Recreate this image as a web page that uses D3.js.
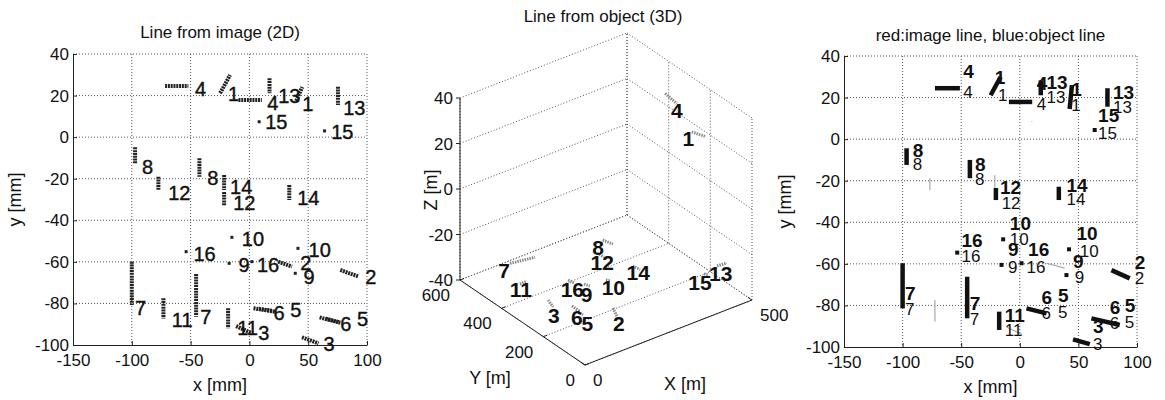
<!DOCTYPE html>
<html lang="en">
<head>
<meta charset="UTF-8">
<title>Line from image / object</title>
<script src="https://d3js.org/d3.v7.min.js"></script>
<style>
    body { margin: 0; background: #fff; }
    text { font-family: "Liberation Sans", Arial, sans-serif; fill: #111; }
    .grid { stroke: #555; stroke-width: 1; stroke-dasharray: 1,2; fill: none; }
    .axisline { stroke: #222; stroke-width: 1; }
    .seg2d { stroke: #222; stroke-width: 4; stroke-dasharray: 2,0.8; }
    .dot2d { fill: #222; }
    .lab2d { stroke: #111; stroke-width: 0.4; }
    .seg3d { stroke: #8a8a8a; stroke-width: 3; stroke-dasharray: 1.5,1; }
    .segobj { stroke: #111; stroke-width: 4.5; }
    .segimg { stroke: #999; stroke-width: 1; }
</style>
</head>
<body>
<script>
    const width = 1165;
    const height = 400;

    // ticks
    const xTicks2d = [-150, -100, -50, 0, 50, 100];
    const yTicks2d = [-100, -80, -60, -40, -20, 0, 20, 40];
    const xTicks3d = [0, 500];
    const yTicks3d = [0, 200, 400, 600];
    const zTicks3d = [-40, -20, 0, 20, 40];

    // image lines [id, x1, y1, x2, y2] in mm (points have equal ends)
    const imageLines = [
        [4, -71.7, 24.6, -51.9, 24.6], [1, -24.9, 21.1, -16.4, 29.9],
        [4, -9.3, 17.9, 10.6, 17.9], [13, 17.1, 28.3, 17.1, 21.1],
        [1, 39.8, 17.4, 44.9, 24.1], [13, 75.3, 24.3, 75.3, 15.5],
        [15, 8.3, 7.4, 8.3, 7.4], [15, 63.9, 3.0, 63.9, 3.0],
        [8, -97.2, -4.9, -97.2, -12.9], [8, -42.5, -10.2, -42.5, -19],
        [12, -77.4, -19, -77.4, -25.4], [14, -21.5, -18.2, -21.5, -25.4],
        [12, -21.5, -26.4, -21.5, -33.1], [14, 33.9, -23, 33.9, -30.2],
        [10, -14.9, -48.2, -14.9, -48.2], [10, 41.3, -53.5, 41.3, -53.5],
        [16, -53.8, -55.1, -53.8, -55.1], [9, -17.2, -60.7, -17.2, -60.7],
        [16, 2.1, -59.9, 2.1, -59.9], [2, 24.5, -59.9, 36.2, -62.3],
        [9, 39, -65.5, 39, -65.5], [2, 77.3, -63.9, 92.9, -67.1],
        [7, -100, -59.9, -100, -80.8], [11, -73.1, -77.5, -73.1, -87.2],
        [7, -45.3, -65.8, -45.3, -86.4], [6, 3.5, -82.3, 21.9, -84],
        [5, 8, -82.6, 20, -83.6], [11, -18.1, -82.3, -18.1, -92],
        [3, -11.3, -90.9, 1.5, -94.2], [6, 59.7, -86.7, 77.3, -89.3],
        [5, 65, -87.3, 76, -89], [3, 44.7, -96.3, 58.8, -99.2]
    ];
    const imageLabels = [
        ["4", -46.2, 23.2], ["1", -18.1, 20.8], ["4", 15.1, 16.6], ["13", 24.5, 19.8],
        ["1", 44.9, 15.9], ["13", 79.8, 14.3], ["15", 13.4, 7.4], ["15", 69.6, 2.5],
        ["8", -91.3, -14.2], ["8", -35.9, -19.4], ["12", -69.1, -26.7], ["14", -16.4, -24.0],
        ["12", -13.8, -31.7], ["14", 40.7, -29.3], ["10", -6.4, -49], ["10", 50.3, -54.3],
        ["16", -47.6, -56.2], ["9", -9.3, -61.5], ["16", 6.4, -61.5], ["2", 43.2, -60.6],
        ["9", 46, -67.1], ["2", 98.6, -67.4], ["7", -97.2, -82.3], ["11", -66, -88],
        ["7", -41.9, -86.4], ["6", 20.5, -84.7], ["5", 34.7, -83.2], ["11", -10.4, -91.8],
        ["3", 7.5, -94.2], ["6", 77.3, -89.6], ["5", 91.5, -87.2], ["3", 63.1, -99.2]
    ];

    // object lines [id, X1, Y1, Z1, X2, Y2, Z2] in m
    const objectLines = [
        [4, 480, 385, 28, 480, 329, 27], [1, 480, 257, 19, 480, 194, 21],
        [8, 320, 428, -30, 328, 392, -30], [12, 273, 380, -30, 275, 349, -30],
        [14, 304, 259, -30, 309, 231, -30], [7, 78, 485, -30, 143, 469, -30],
        [11, 39, 375, -30, 61, 376, -30], [16, 142, 309, -30, 145, 285, -30],
        [9, 161, 263, -30, 167, 244, -30], [10, 214, 243, -30, 221, 230, -30],
        [15, 418, 99, -30, 423, 87, -30], [13, 465, 112, -30, 492, 108, -30],
        [3, 48, 254, -30, 38, 214, -30], [6, 77, 186, -30, 76, 146, -30],
        [5, 71, 148, -30, 73, 126, -30], [2, 149, 105, -30, 134, 62, -30]
    ];
    const objectLabels = [
        ["4", 480, 329, 24], ["1", 480, 274, 15], ["8", 291, 404, -30], ["12", 256, 328, -30],
        ["14", 297, 221, -30], ["7", 46, 462, -30], ["11", 27, 351, -30], ["16", 125, 261, -30],
        ["9", 138, 214, -30], ["10", 207, 196, -30], ["15", 386, 67, -30], ["13", 451, 72, -30],
        ["3", 15, 173, -30], ["6", 54, 126, -30], ["5", 56, 78, -30], ["2", 116, 23, -30]
    ];

    // overlay: projected object lines (thick) and unmatched image lines (thin)
    const overlayObject = [
        [4, -72.4, 24.5, -51.1, 24.5], [1, -24.9, 21.1, -16.4, 29.9],
        [4, -9.3, 17.9, 10.6, 17.9], [13, 17.9, 28.3, 17.9, 21.1],
        [1, 42.5, 14.5, 44.5, 26], [13, 74.8, 24.5, 74.8, 15.6],
        [8, -96.6, -4.4, -96.6, -12.4], [8, -42.6, -10, -42.6, -18.8],
        [12, -20.4, -23.5, -20.4, -29.3], [14, 33.3, -22.9, 33.3, -29.3],
        [2, 78.2, -63, 93.8, -67], [7, -100, -59.7, -100, -81.4],
        [7, -44.9, -66.2, -44.9, -86.2], [11, -17.6, -83, -17.6, -91.8],
        [6, 5.7, -81.4, 22.8, -83.8], [6, 61.1, -86.2, 85.3, -89.4],
        [3, 45.4, -96.3, 59.7, -98.6],
        [15, 63.9, 4.4, 63.9, 4.4], [10, -14.2, -48.2, -14.2, -48.2],
        [16, -53.4, -54.6, -53.4, -54.6], [9, -15.6, -60.5, -15.6, -60.5],
        [16, 1.5, -59.7, 1.5, -59.7], [10, 42, -53, 42, -53], [9, 39.8, -65.4, 39.8, -65.4]
    ];
    const overlayImage = [
        [12, -76.7, -18.7, -76.7, -24.5], [14, -21.3, -17.3, -21.3, -23.6],
        [2, 22.8, -59.7, 38.4, -62.1], [11, -72.4, -77.4, -72.4, -87.8],
        [3, -11, -90.5, 2, -94], [15, 10, 8.4, 10.6, 8.4]
    ];
    // [text, x, y, bold]
    const overlayLabels = [
        ["4", -48.3, 32.5, 1], ["1", -21.3, 30, 1], ["4", 14.5, 26.9, 1], ["13", 22.8, 27.6, 1],
        ["1", 44, 24, 1], ["13", 79.5, 22.8, 1], ["15", 66.8, 11.6, 1], ["8", -91.4, -5.2, 1],
        ["8", -38.3, -12.1, 1], ["12", -17, -22.9, 1], ["14", 39.8, -22.1, 1], ["10", -8.5, -40.5, 1],
        ["16", -49.7, -48.5, 1], ["9", -10, -53, 1], ["16", 7.1, -53, 1], ["10", 48.3, -45.3, 1],
        ["9", 45.4, -58.5, 1], ["2", 98, -59.3, 1], ["7", -98, -73.9, 1], ["7", -42.6, -78.7, 1],
        ["11", -12.8, -84.6, 1], ["6", 18.5, -76.1, 1], ["5", 32.7, -75, 1], ["6", 76.7, -80.6, 1],
        ["5", 89.5, -79.8, 1], ["3", 62.5, -90.2, 1],
        ["4", -48.3, 22.8, 0], ["1", -18.7, 21.2, 0], ["4", 14.5, 17.2, 0], ["13", 22.8, 20.4, 0],
        ["1", 44, 16.4, 0], ["13", 79.5, 15.3, 0], ["15", 66.8, 3.1, 0], ["8", -91.4, -12.1, 0],
        ["8", -38.3, -19.3, 0], ["12", -15.5, -30.7, 0], ["14", 39.8, -28.8, 0], ["10", -8.5, -48.2, 0],
        ["16", -49.7, -56.2, 0], ["9", -10, -61.4, 0], ["16", 5.7, -61.5, 0], ["10", 51.2, -53.7, 0],
        ["9", 46.9, -66.5, 0], ["2", 98, -66.6, 0], ["7", -98, -81.9, 0], ["7", -42.6, -86.7, 0],
        ["11", -12.8, -91.8, 0], ["6", 18.5, -83.8, 0], ["5", 32.7, -83, 0], ["6", 76.7, -88.6, 0],
        ["5", 89.5, -87.8, 0], ["3", 62.5, -98.6, 0]
    ];

    const svg = d3.select("body").append("svg")
            .attr("width", width).attr("height", height);

    const isPoint = d => d[1] === d[3] && d[2] === d[4];
    const plain = d => String(d);   // hyphen minus like the original

    function panel2d(left, right, top, bottom, title, titleY, labelX) {
        const x = d3.scaleLinear().domain([-150, 100]).range([left, right]);
        const y = d3.scaleLinear().domain([-100, 40]).range([bottom, top]);
        const g = svg.append("g");

        g.selectAll("line.gx").data(xTicks2d.slice(1)).enter().append("line")
            .attr("class", "grid")
            .attr("x1", d => x(d)).attr("x2", d => x(d))
            .attr("y1", top).attr("y2", bottom);
        g.selectAll("line.gy").data(yTicks2d.slice(1)).enter().append("line")
            .attr("class", "grid")
            .attr("x1", left).attr("x2", right)
            .attr("y1", d => y(d)).attr("y2", d => y(d));

        const ax = g.append("g").attr("transform", `translate(0,${bottom})`)
            .call(d3.axisBottom(x).tickValues(xTicks2d).tickFormat(plain)
                .tickSizeInner(-4).tickSizeOuter(0).tickPadding(9));
        const ay = g.append("g").attr("transform", `translate(${left},0)`)
            .call(d3.axisLeft(y).tickValues(yTicks2d).tickFormat(plain)
                .tickSizeInner(-4).tickSizeOuter(0).tickPadding(4));
        [ax, ay].forEach(a => {
            a.attr("font-size", 17).attr("font-family", '"Liberation Sans", Arial, sans-serif');
            a.selectAll("path, line").attr("stroke", "#222");
            a.selectAll("text").attr("fill", "#111");
        });

        g.append("text").attr("x", (left + right) / 2).attr("y", titleY)
            .attr("text-anchor", "middle").attr("font-size", 17).text(title);
        g.append("text").attr("x", (left + right) / 2).attr("y", bottom + 46)
            .attr("text-anchor", "middle").attr("font-size", 18).text("x [mm]");
        g.append("text").attr("transform", `translate(${labelX},${(top + bottom) / 2}) rotate(-90)`)
            .attr("text-anchor", "middle").attr("font-size", 18).text("y [mm]");
        return {g, x, y};
    }

    // ---- left: image lines
    const p1 = panel2d(73, 367, 54, 345, "Line from image (2D)", 38, 21);
    p1.g.selectAll("line.seg").data(imageLines.filter(d => !isPoint(d))).enter().append("line")
        .attr("class", "seg2d")
        .attr("x1", d => p1.x(d[1])).attr("y1", d => p1.y(d[2]))
        .attr("x2", d => p1.x(d[3])).attr("y2", d => p1.y(d[4]));
    p1.g.selectAll("rect.dot").data(imageLines.filter(isPoint)).enter().append("rect")
        .attr("class", "dot2d")
        .attr("x", d => p1.x(d[1]) - 1.5).attr("y", d => p1.y(d[2]) - 1.5)
        .attr("width", 3).attr("height", 3);
    p1.g.selectAll("text.lab").data(imageLabels).enter().append("text")
        .attr("class", "lab2d")
        .attr("x", d => p1.x(d[1])).attr("y", d => p1.y(d[2]))
        .attr("dy", "0.36em").attr("font-size", 20).text(d => d[0]);

    // ---- middle: 3D object lines
    const pxX = d3.scaleLinear().domain([0, 500]).range([0, 167]);
    const pyX = d3.scaleLinear().domain([0, 500]).range([0, -65]);
    const pxY = d3.scaleLinear().domain([0, 600]).range([0, -125]);
    const pyY = d3.scaleLinear().domain([0, 600]).range([0, -85]);
    const pyZ = d3.scaleLinear().domain([-40, 40]).range([0, -182]);
    const proj = (X, Y, Z) => [585 + pxX(X) + pxY(Y), 365 + pyX(X) + pyY(Y) + pyZ(Z)];

    const g3 = svg.append("g");
    const grid3 = [];
    zTicks3d.forEach(z => {
        grid3.push([proj(0, 600, z), proj(500, 600, z)]);
        grid3.push([proj(500, 0, z), proj(500, 600, z)]);
    });
    xTicks3d.forEach(X => {
        grid3.push([proj(X, 600, -40), proj(X, 600, 40)]);
        grid3.push([proj(X, 0, -40), proj(X, 600, -40)]);
    });
    yTicks3d.forEach(Y => {
        grid3.push([proj(500, Y, -40), proj(500, Y, 40)]);
        grid3.push([proj(0, Y, -40), proj(500, Y, -40)]);
    });
    g3.selectAll("line.grid").data(grid3).enter().append("line")
        .attr("class", "grid")
        .attr("x1", d => d[0][0]).attr("y1", d => d[0][1])
        .attr("x2", d => d[1][0]).attr("y2", d => d[1][1]);

    const axes3 = [
        [proj(0, 600, -40), proj(0, 600, 40)],
        [proj(0, 0, -40), proj(0, 600, -40)],
        [proj(0, 0, -40), proj(500, 0, -40)]
    ];
    g3.selectAll("line.axisline").data(axes3).enter().append("line")
        .attr("class", "axisline")
        .attr("x1", d => d[0][0]).attr("y1", d => d[0][1])
        .attr("x2", d => d[1][0]).attr("y2", d => d[1][1]);

    // ticks and tick labels
    zTicks3d.forEach(z => {
        const p = proj(0, 600, z);
        g3.append("line").attr("class", "axisline")
            .attr("x1", p[0]).attr("y1", p[1]).attr("x2", p[0] - 4).attr("y2", p[1]);
        g3.append("text").attr("x", p[0] - 7).attr("y", p[1]).attr("dy", "0.36em")
            .attr("text-anchor", "end").attr("font-size", 17).text(z);
    });
    yTicks3d.forEach(Y => {
        const p = proj(0, Y, -40), q = proj(12, Y, -40);
        g3.append("line").attr("class", "axisline")
            .attr("x1", p[0]).attr("y1", p[1]).attr("x2", q[0]).attr("y2", q[1]);
        g3.append("text").attr("x", p[0] - 10).attr("y", p[1] + 15).attr("dy", "0.36em")
            .attr("text-anchor", "end").attr("font-size", 17).text(Y);
    });
    xTicks3d.forEach(X => {
        const p = proj(X, 0, -40), q = proj(X, 20, -40);
        g3.append("line").attr("class", "axisline")
            .attr("x1", p[0]).attr("y1", p[1]).attr("x2", q[0]).attr("y2", q[1]);
        g3.append("text").attr("x", p[0] + 8).attr("y", p[1] + 15).attr("dy", "0.36em")
            .attr("font-size", 17).text(X);
    });

    g3.append("text").attr("x", 603).attr("y", 22).attr("text-anchor", "middle")
        .attr("font-size", 17).text("Line from object (3D)");
    g3.append("text").attr("x", 490).attr("y", 384).attr("text-anchor", "middle")
        .attr("font-size", 18).text("Y [m]");
    g3.append("text").attr("x", 685).attr("y", 390).attr("text-anchor", "middle")
        .attr("font-size", 18).text("X [m]");
    g3.append("text").attr("transform", "translate(437,190) rotate(-90)")
        .attr("text-anchor", "middle").attr("font-size", 18).text("Z [m]");

    g3.selectAll("line.seg3d").data(objectLines).enter().append("line")
        .attr("class", "seg3d")
        .attr("x1", d => proj(d[1], d[2], d[3])[0]).attr("y1", d => proj(d[1], d[2], d[3])[1])
        .attr("x2", d => proj(d[4], d[5], d[6])[0]).attr("y2", d => proj(d[4], d[5], d[6])[1]);
    g3.selectAll("text.lab3").data(objectLabels).enter().append("text")
        .attr("x", d => proj(d[1], d[2], d[3])[0]).attr("y", d => proj(d[1], d[2], d[3])[1])
        .attr("dy", "0.36em").attr("text-anchor", "middle")
        .attr("font-size", 21).attr("font-weight", "bold").text(d => d[0]);

    // ---- right: overlay
    const p3 = panel2d(844, 1137, 56, 347, "red:image line, blue:object line", 41, 791);
    p3.g.selectAll("line.img").data(overlayImage).enter().append("line")
        .attr("class", "segimg")
        .attr("x1", d => p3.x(d[1])).attr("y1", d => p3.y(d[2]))
        .attr("x2", d => p3.x(d[3])).attr("y2", d => p3.y(d[4]));
    p3.g.selectAll("line.obj").data(overlayObject.filter(d => !isPoint(d))).enter().append("line")
        .attr("class", "segobj")
        .attr("x1", d => p3.x(d[1])).attr("y1", d => p3.y(d[2]))
        .attr("x2", d => p3.x(d[3])).attr("y2", d => p3.y(d[4]));
    p3.g.selectAll("rect.dot").data(overlayObject.filter(isPoint)).enter().append("rect")
        .attr("fill", "#111")
        .attr("x", d => p3.x(d[1]) - 2).attr("y", d => p3.y(d[2]) - 2)
        .attr("width", 4).attr("height", 4);
    p3.g.selectAll("text.lab").data(overlayLabels).enter().append("text")
        .attr("x", d => p3.x(d[1])).attr("y", d => p3.y(d[2]))
        .attr("dy", "0.36em")
        .attr("font-size", d => d[3] ? 19 : 17)
        .attr("font-weight", d => d[3] ? "bold" : "normal")
        .text(d => d[0]);
</script>
</body>
</html>
